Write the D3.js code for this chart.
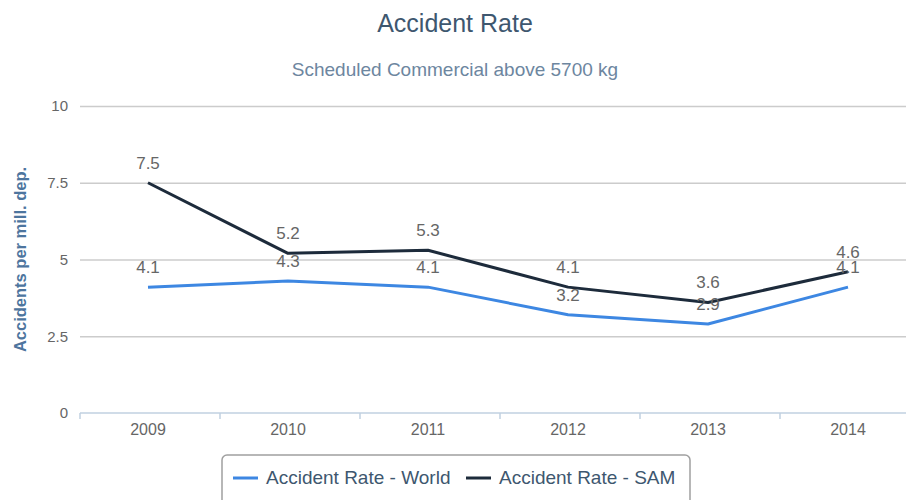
<!DOCTYPE html>
<html>
<head>
<meta charset="utf-8">
<script src="https://cdn.jsdelivr.net/npm/d3@7/dist/d3.min.js"></script>
<style>
  body { margin: 0; background: #fff; }
  svg { display: block; font-family: "Liberation Sans", Arial, sans-serif; }
</style>
</head>
<body>
<svg id="chart" width="906" height="500"></svg>
<script>
var years = ['2009', '2010', '2011', '2012', '2013', '2014'];
var worldRate = [4.1, 4.3, 4.1, 3.2, 2.9, 4.1];
var samRate = [7.5, 5.2, 5.3, 4.1, 3.6, 4.6];
var yTicks = [0, 2.5, 5, 7.5, 10];
var seriesNames = ['Accident Rate - World', 'Accident Rate - SAM'];
var seriesColors = ['#3d87e2', '#1d2b3b'];

var svg = d3.select('#chart');
var width = 906, height = 500;
var margin = { top: 106, right: -12, bottom: 87, left: 78 };

var x = d3.scalePoint().domain(years).range([margin.left, width - margin.right]).padding(0.5);
var band = x.step();
var y = d3.scaleLinear().domain([0, 10]).range([height - margin.bottom, margin.top]);

// titles
svg.append('text').attr('x', 455).attr('y', 32).attr('text-anchor', 'middle')
  .attr('fill', '#3e576f').style('font-size', '25px').text('Accident Rate');
svg.append('text').attr('x', 455).attr('y', 76).attr('text-anchor', 'middle')
  .attr('fill', '#6d869f').style('font-size', '19px').text('Scheduled Commercial above 5700 kg');

// grid + y labels
var yAxis = svg.append('g').attr('transform', 'translate(' + (margin.left + 2) + ',0)')
  .call(d3.axisLeft(y).tickValues(yTicks).tickSize(-(width - margin.left)).tickPadding(12)
    .tickFormat(function (d) { return d; }));
yAxis.select('.domain').remove();
yAxis.selectAll('.tick line').attr('stroke', '#cccccc').attr('stroke-width', 1.5)
  .filter(function (d) { return d === 0; }).remove();
yAxis.selectAll('.tick text').attr('fill', '#666').style('font-size', '15px')
  .style('font-family', '"Liberation Sans", Arial, sans-serif');

svg.append('text')
  .attr('transform', 'translate(26,' + ((margin.top + height - margin.bottom) / 2 + 0) + ') rotate(-90)')
  .attr('text-anchor', 'middle').attr('fill', '#4d759e').style('font-size', '16.5px')
  .style('font-weight', 'bold').text('Accidents per mill. dep.');

// x axis
var xg = svg.append('g').attr('transform', 'translate(0,' + y(0) + ')');
xg.append('line').attr('x1', margin.left + 2).attr('x2', width).attr('stroke', '#c0d0e0').attr('stroke-width', 1.5);
xg.selectAll('.xtick').data(years).join('line').attr('class', 'xtick')
  .attr('x1', function (d) { return x(d) - band / 2 + 2; })
  .attr('x2', function (d) { return x(d) - band / 2 + 2; })
  .attr('y1', 0).attr('y2', 6).attr('stroke', '#c0d0e0').attr('stroke-width', 1.5);
xg.selectAll('.xlab').data(years).join('text').attr('class', 'xlab')
  .attr('x', function (d) { return x(d); }).attr('y', 22).attr('text-anchor', 'middle')
  .attr('fill', '#666').style('font-size', '16px').text(function (d) { return d; });

// lines
var series = [worldRate, samRate];
var line = d3.line().x(function (d, i) { return x(years[i]); }).y(function (d) { return y(d); });
series.forEach(function (vals, s) {
  svg.append('path').datum(vals).attr('d', line).attr('fill', 'none')
    .attr('stroke', seriesColors[s]).attr('stroke-width', 3).attr('stroke-linejoin', 'round');
});
series.forEach(function (vals, s) {
  svg.selectAll('.lab' + s).data(vals).join('text').attr('class', 'lab' + s)
    .attr('x', function (d, i) { return x(years[i]); })
    .attr('y', function (d) { return y(d) - 14; })
    .attr('text-anchor', 'middle').attr('fill', '#666').style('font-size', '17px')
    .text(function (d) { return d; });
});

// legend
var legend = svg.append('g');
legend.append('rect').attr('x', 222).attr('y', 455).attr('width', 468).attr('height', 60)
  .attr('rx', 5).attr('fill', '#fff').attr('stroke', '#a0a0a0').attr('stroke-width', 1.5);
var legX = [233, 466];
seriesNames.forEach(function (name, s) {
  legend.append('line').attr('x1', legX[s]).attr('x2', legX[s] + 25).attr('y1', 478).attr('y2', 478)
    .attr('stroke', seriesColors[s]).attr('stroke-width', 3);
  legend.append('text').attr('x', legX[s] + 33).attr('y', 484).attr('fill', '#3e576f')
    .style('font-size', '19px').text(name);
});
</script>
</body>
</html>
